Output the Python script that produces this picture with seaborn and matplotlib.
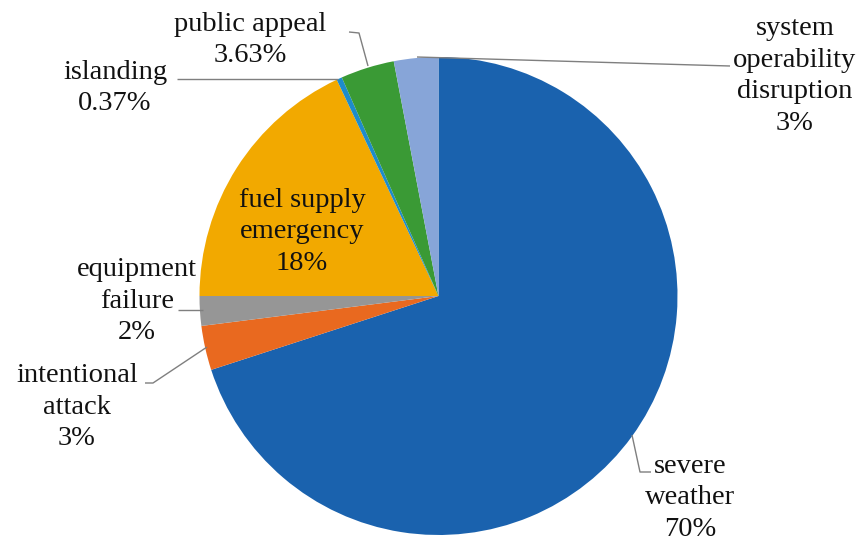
import matplotlib
matplotlib.use("Agg")
import matplotlib.pyplot as plt
import seaborn as sns

# Share of events by cause (percent), drawn clockwise from 12 o'clock
causes = ["severe\nweather", "intentional\nattack", "equipment\nfailure",
          "fuel supply\nemergency", "islanding", "public appeal",
          "system\noperability\ndisruption"]
shares = [70, 3, 2, 18, 0.37, 3.63, 3]
share_labels = ["70%", "3%", "2%", "18%", "0.37%", "3.63%", "3%"]
slice_colors = ["#1A62AE", "#E9691F", "#969696", "#F2A900",
                "#1E8CCB", "#3A9A35", "#87A5D8"]

sns.set_theme(style="white")
plt.rcParams["font.family"] = ["Liberation Serif", "DejaVu Serif"]

W, H = 863, 542
fig = plt.figure(figsize=(W / 100, H / 100), dpi=100)
ax = fig.add_axes([0, 0, 1, 1])

cx, cy, r = 438.5, H - 296, 239
ax.pie(shares, colors=sns.color_palette(slice_colors), startangle=90,
       counterclock=False, center=(cx, cy), radius=r,
       wedgeprops=dict(linewidth=0), frame=False)
ax.set_xlim(0, W)
ax.set_ylim(0, H)
ax.set_aspect("equal")
ax.axis("off")

fs = 20.5
line_kw = dict(color="#7f7f7f", lw=1.0, solid_capstyle="butt")

def label(i, x, y, ha="center"):
    ax.text(x, H - y, f"{causes[i]}\n{share_labels[i]}", ha=ha, va="center",
            fontsize=fs, linespacing=1.36, color="#111111")

def leader(pts):
    xs = [p[0] for p in pts]
    ys = [H - p[1] for p in pts]
    ax.plot(xs, ys, **line_kw)

# severe weather
label(0, 690, 498)
leader([(632, 435), (640, 472), (651, 472)])
# intentional attack
label(1, 77, 407)
leader([(145, 383), (153, 383), (207, 347)])
# equipment failure
label(2, 137, 301)
leader([(178, 310), (203, 310)])
# fuel supply emergency (inside the slice)
label(3, 302, 232)
# islanding
label(4, 115, 88)
leader([(177, 79), (338, 79)])
# public appeal
label(5, 250, 40)
leader([(349, 32), (359, 33), (368, 66)])
# system operability disruption
label(6, 795, 76)
leader([(417, 57), (730, 66)])

fig.savefig("out.png", dpi=100)
